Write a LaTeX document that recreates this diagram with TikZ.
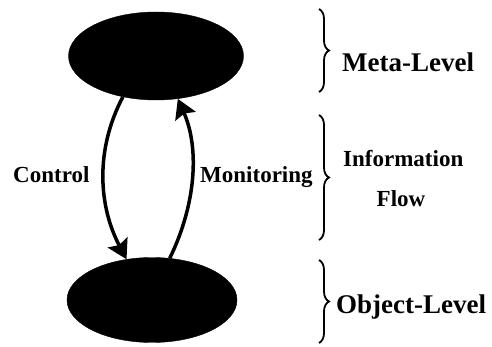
\documentclass[tikz,border=0pt]{standalone}
\usepackage{fontspec}
\setmainfont{Liberation Serif}
\usetikzlibrary{shapes.geometric,arrows.meta,decorations.pathreplacing}
\begin{document}
\begin{tikzpicture}[x=1pt,y=-1pt,
  level/.style={ellipse,fill=black,draw=black,inner sep=0pt},
  flowarrow/.style={line width=3.5pt,-{Stealth[length=19pt,width=22pt,inset=3pt]}},
  bigbrace/.style={decorate,decoration={brace,amplitude=10pt},line width=1.8pt},
  biglabel/.style={font=\fontsize{27}{32}\selectfont\bfseries,inner sep=0pt},
  smalllabel/.style={font=\fontsize{23}{27}\selectfont\bfseries,inner sep=0pt}]
\fill[white] (0,0) rectangle (492,347);
\useasboundingbox (0,0) rectangle (492,347);
\node[level,minimum width=175pt,minimum height=88pt] (meta) at (156,56) {};
\node[level,minimum width=170pt,minimum height=85pt] (object) at (152,300) {};
\draw[flowarrow] (meta.231) .. controls +(-28,53) and +(-28,-53) .. (object.122);
\draw[flowarrow] (object.67) .. controls +(26,-53) and +(22,50) .. (meta.-63);
\node[smalllabel,anchor=base west] (control) at (13,183) {Control};
\node[smalllabel,anchor=base west] (monitoring) at (200,183) {Monitoring};
\coordinate (b1t) at (319,9); \coordinate (b1b) at (319,92);
\coordinate (b2t) at (319,115); \coordinate (b2b) at (319,240);
\coordinate (b3t) at (319,260); \coordinate (b3b) at (319,343);
\draw[bigbrace] (b1t) -- (b1b);
\draw[bigbrace] (b2t) -- (b2b);
\draw[bigbrace] (b3t) -- (b3b);
\node[biglabel,anchor=base west] (metalabel) at (342,72) {Meta-Level};
\node[smalllabel,anchor=base west] (info) at (343,167) {Information};
\node[smalllabel,anchor=base] (flow) at (401,207) {Flow};
\node[biglabel,anchor=base west] (objlabel) at (336,313) {Object-Level};
\end{tikzpicture}
\end{document}
